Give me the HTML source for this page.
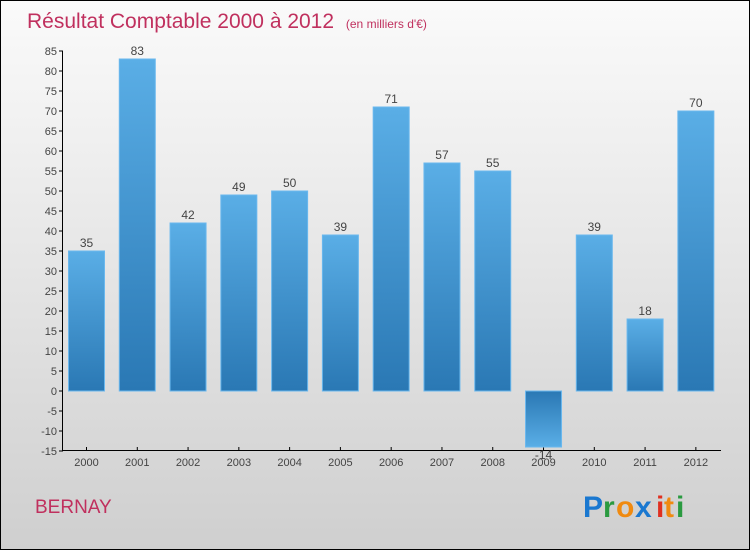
<!DOCTYPE html>
<html><head><meta charset="utf-8"><style>
body{margin:0}
#c{position:relative;width:748px;height:548px;border:1px solid #000;background:linear-gradient(#fafafa,#f2f2f2 20%,#cfcfcf);overflow:hidden;font-family:"Liberation Sans",sans-serif}
</style></head><body>
<div id="c">
<svg width="748" height="548" xmlns="http://www.w3.org/2000/svg" id="s">
<defs>
<linearGradient id="gp" x1="0" y1="0" x2="0" y2="1"><stop offset="0" stop-color="#5aaee6"/><stop offset="1" stop-color="#2a78b4"/></linearGradient>
<linearGradient id="gn" x1="0" y1="0" x2="0" y2="1"><stop offset="0" stop-color="#2a78b4"/><stop offset="1" stop-color="#5aaee6"/></linearGradient>
</defs>
<text x="26" y="27" font-size="21" fill="#c0305e">Résultat Comptable 2000 à 2012 <tspan font-size="12" dx="6">(en milliers d'€)</tspan></text>
<g id="axes"></g><g id="bars"></g>
<text x="34" y="512" font-size="19" fill="#c0305e">BERNAY</text>
<g font-size="30" font-weight="bold" font-family="Liberation Sans, sans-serif">
<text x="582" y="516" fill="#1a78d0">P</text><text x="602" y="516" fill="#2a9a40">r</text><text x="615" y="516" fill="#f08a10">o</text><text x="634" y="516" fill="#1a78d0">x</text><text x="655" y="516" fill="#e03020">i</text><text x="663" y="516" fill="#f08a10">t</text><text x="675" y="516" fill="#2a9a40">i</text>
</g>
</svg></div>
<script>
const years=["2000","2001","2002","2003","2004","2005","2006","2007","2008","2009","2010","2011","2012"];
const values=[35,83,42,49,50,39,71,57,55,-14,39,18,70];
const yTicks=[85,80,75,70,65,60,55,50,45,40,35,30,25,20,15,10,5,0,-5,-10,-15];
const NS="http://www.w3.org/2000/svg";
const yS=v=>390-(v*4);
const xS=i=>85.5+i*50.78;
function mk(t,a,p){const e=document.createElementNS(NS,t);for(const k in a)e.setAttribute(k,a[k]);p.appendChild(e);return e;}
const ax=document.getElementById('axes'),bg=document.getElementById('bars');
const yl=mk('line',{x1:61.5,y1:50,x2:61.5,y2:450,stroke:'#000'},ax);


const xl=mk('line',{x1:61.5,y1:449.5,x2:720,y2:449.5,stroke:'#000'},ax);


yTicks.forEach(v=>{
 const y=yS(v);
 mk('line',{x1:58,y1:y,x2:62,y2:y,stroke:'#000'},ax);
 const t=mk('text',{x:56,y:y+4,'font-size':11,fill:'#444','text-anchor':'end'},ax);
 t.textContent=v;
 
 
});
years.forEach((yr,i)=>{
 const x=xS(i),v=values[i];
 mk('line',{x1:x,y1:446,x2:x,y2:450,stroke:'#000'},ax);
 const t=mk('text',{x:x,y:465,'font-size':11,fill:'#444','text-anchor':'middle'},ax);
 t.textContent=yr;
 
 
 const y0=yS(Math.max(v,0)),y1=yS(Math.min(v,0));
 const r=mk('rect',{x:x-18,y:y0,width:36,height:y1-y0,fill:v>=0?'url(#gp)':'url(#gn)',stroke:'#6ab8ee','stroke-width':1},bg);
 
 
 const l=mk('text',{x:x,y:v>=0?y0-4:y1+12,'font-size':12,fill:'#444','text-anchor':'middle'},bg);
 l.textContent=v;
 
 
});
</script>
</body></html>
